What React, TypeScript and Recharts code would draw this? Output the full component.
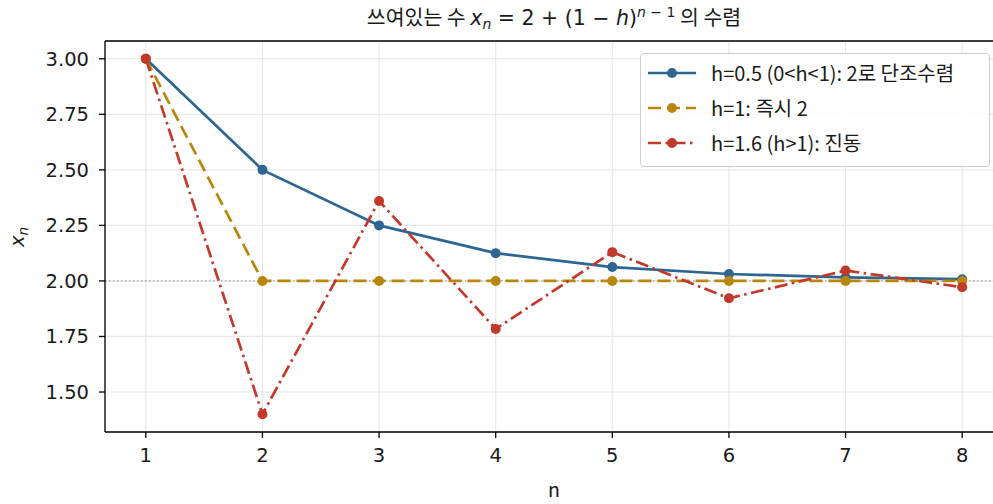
import React from "react";
import {
  LineChart,
  Line,
  XAxis,
  YAxis,
  CartesianGrid,
  ReferenceLine,
  Legend,
} from "recharts";

const nValues = [1, 2, 3, 4, 5, 6, 7, 8];
const seriesH05 = [3.0, 2.5, 2.25, 2.125, 2.0625, 2.03125, 2.015625, 2.0078];
const seriesH1 = [3.0, 2.0, 2.0, 2.0, 2.0, 2.0, 2.0, 2.0];
const seriesH16 = [3.0, 1.4, 2.36, 1.784, 2.1296, 1.9222, 2.0467, 1.972];
const xTicks = [1, 2, 3, 4, 5, 6, 7, 8];
const yTicks = [1.5, 1.75, 2.0, 2.25, 2.5, 2.75, 3.0];
const limitValue = 2;

const seriesDefs = [
  { key: "a", name: "h=0.5 (0<h<1): 2로 단조수렴", color: "#2e6591", dash: undefined as string | undefined },
  { key: "b", name: "h=1: 즉시 2", color: "#b8860b", dash: "13 6" },
  { key: "c", name: "h=1.6 (h>1): 진동", color: "#c0392b", dash: "13 4.5 2.5 4.5" },
];

const data = nValues.map((n, i) => ({
  n,
  a: seriesH05[i],
  b: seriesH1[i],
  c: seriesH16[i],
}));

const FONT = "'Noto Sans CJK KR', 'Noto Sans', 'DejaVu Sans', sans-serif";
const MATH = "'DejaVu Sans', sans-serif";
const FS = 19.5;
const TFS = 20.5;

const LegendBox = () => (
  <div
    style={{
      position: "absolute",
      left: 640,
      top: 53,
      width: 350,
      height: 114,
      boxSizing: "border-box",
      border: "1px solid #cccccc",
      borderRadius: 4,
      background: "rgba(255,255,255,0.85)",
      fontFamily: FONT,
      fontSize: 20,
      color: "#1a1a1a",
      paddingTop: 1,
    }}
  >
    {seriesDefs.map((s) => (
      <div key={s.key} style={{ display: "flex", alignItems: "center", height: 35 }}>
        <svg width={65} height={20} style={{ marginLeft: 5 }}>
          <line x1={2} y1={10} x2={50} y2={10} stroke={s.color} strokeWidth={2.7} strokeDasharray={s.dash} />
          <circle cx={26} cy={10} r={5} fill={s.color} />
        </svg>
        <span style={{ whiteSpace: "nowrap" }}>{s.name}</span>
      </div>
    ))}
  </div>
);

export default function App() {
  return (
    <div
      style={{
        position: "absolute",
        left: 0,
        top: 0,
        width: 993,
        height: 504,
        overflow: "hidden",
        background: "#fff",
      }}
    >
      <LineChart
        width={1012}
        height={504}
        data={data}
        margin={{ top: 41, right: 9, bottom: 0, left: 0 }}
      >
        <CartesianGrid stroke="#e8e8e8" strokeWidth={1.2} />
        <XAxis
          dataKey="n"
          type="number"
          domain={[0.65, 8.35]}
          ticks={xTicks}
          allowDataOverflow
          height={72}
          tickSize={6}
          stroke="#000"
          strokeWidth={1.3}
          tick={{ fill: "#1a1a1a", fontSize: FS, fontFamily: MATH }}
          tickMargin={10}
          label={{ value: "n", position: "insideBottom", offset: 7, fill: "#1a1a1a", fontSize: FS, fontFamily: FONT }}
        />
        <YAxis
          type="number"
          domain={[1.32, 3.08]}
          ticks={yTicks}
          allowDataOverflow
          width={105}
          tickSize={6}
          stroke="#000"
          strokeWidth={1.3}
          tickFormatter={(v: number) => v.toFixed(2)}
          tick={{ fill: "#1a1a1a", fontSize: FS, fontFamily: MATH }}
          tickMargin={10}
        />
        <ReferenceLine y={3.08} stroke="#000" strokeWidth={1.3} ifOverflow="visible" />
        <ReferenceLine y={limitValue} stroke="#888" strokeWidth={1} strokeDasharray="1.5 2.5" />
        {seriesDefs.map((s) => (
          <Line
            key={s.key}
            dataKey={s.key}
            name={s.name}
            type="linear"
            stroke={s.color}
            strokeWidth={2.7}
            strokeDasharray={s.dash}
            dot={{ r: 5, fill: s.color, stroke: s.color, strokeWidth: 0 }}
            activeDot={false}
            isAnimationActive={false}
          />
        ))}
        <Legend content={() => null} />
      </LineChart>
      <LegendBox />
      <svg
        width={993}
        height={504}
        style={{ position: "absolute", left: 0, top: 0, pointerEvents: "none" }}
      >
        <text x={554} y={25} textAnchor="middle" fontSize={TFS} fontFamily={FONT} fill="#1a1a1a">
          <tspan>쓰여있는 수 </tspan>
          <tspan fontFamily={MATH} fontStyle="italic">x</tspan>
          <tspan fontFamily={MATH} fontStyle="italic" fontSize={14} dy={4}>n</tspan>
          <tspan fontFamily={MATH} dy={-4}> = 2 + (1 − </tspan>
          <tspan fontFamily={MATH} fontStyle="italic">h</tspan>
          <tspan fontFamily={MATH}>)</tspan>
          <tspan fontFamily={MATH} fontSize={14} dy={-8} fontStyle="italic">n</tspan>
          <tspan fontFamily={MATH} fontSize={14}> − 1</tspan>
          <tspan dy={8}> 의 수렴</tspan>
        </text>
        <text
          transform="translate(24,237) rotate(-90)"
          textAnchor="middle"
          fontSize={FS}
          fontFamily={MATH}
          fill="#1a1a1a"
        >
          <tspan fontStyle="italic">x</tspan>
          <tspan fontStyle="italic" fontSize={13.5} dy={4}>n</tspan>
        </text>
      </svg>
    </div>
  );
}
